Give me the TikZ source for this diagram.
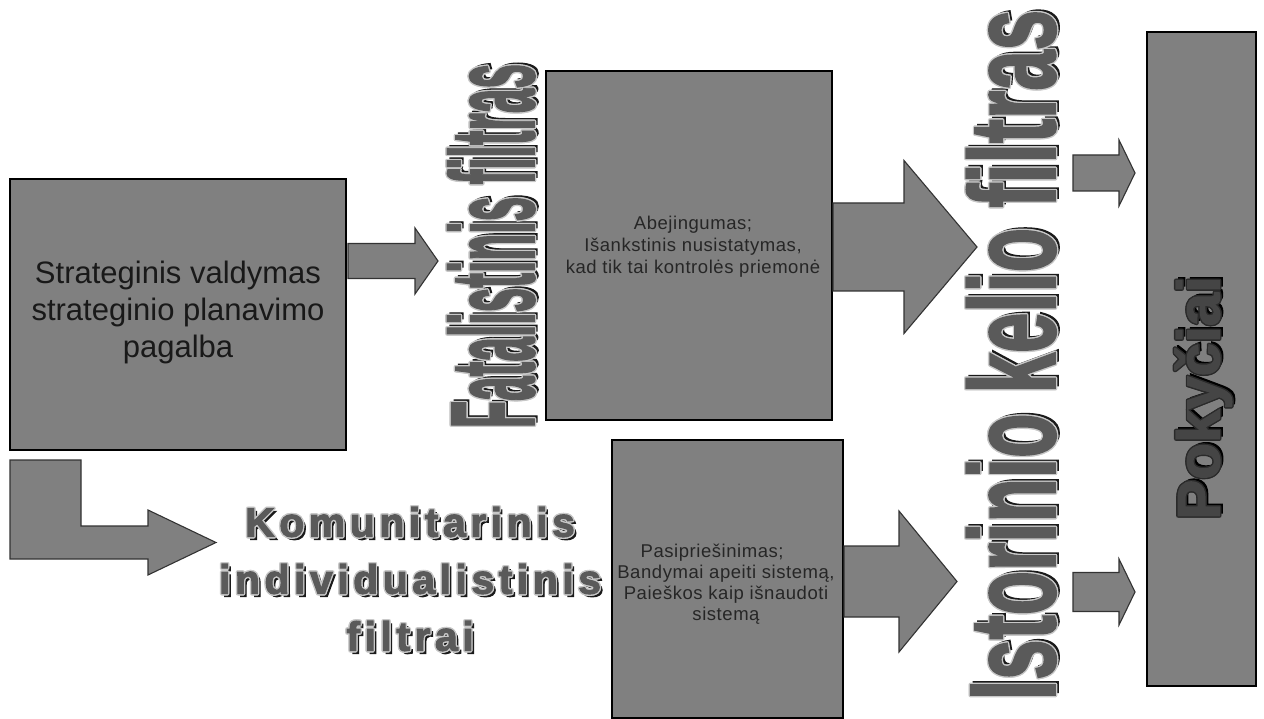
\documentclass[tikz,border=0pt]{standalone}
\usepackage{fontspec}
\usepackage{graphicx}
\setmainfont{Liberation Sans}
\newfontfamily\spacedfont{Liberation Sans}[LetterSpace=11,FakeBold=2.5]
\newfontfamily\heavyfont{Liberation Sans}[FakeBold=2]
\newfontfamily\smallfont{Liberation Sans}[LetterSpace=3]
\definecolor{boxgray}{HTML}{808080}
\definecolor{txtfill}{HTML}{5A5A5A}
\definecolor{txtout}{HTML}{C8C8C8}
\definecolor{txtshadow}{HTML}{1A1A1A}
\definecolor{pokfill}{HTML}{454545}
\definecolor{pokout}{HTML}{2A2A2A}
\definecolor{edgegray}{HTML}{333333}
\newcommand{\lay}[3]{\rlap{\kern#1\raisebox{#2}{#3}}}
\newcommand{\fancytxt}[4]{%
\lay{2.8pt}{-2.8pt}{\color{#1}#4}%
\lay{-1.4pt}{0pt}{\color{#2}#4}%
\lay{1.4pt}{0pt}{\color{#2}#4}%
\lay{0pt}{1.4pt}{\color{#2}#4}%
\lay{0pt}{-1.4pt}{\color{#2}#4}%
\lay{-1pt}{1pt}{\color{#2}#4}%
\lay{1pt}{1pt}{\color{#2}#4}%
\lay{-1pt}{-1pt}{\color{#2}#4}%
\lay{1pt}{-1pt}{\color{#2}#4}%
{\color{#3}#4}}
\newcommand{\blockarrow}[6]{%
\filldraw[arrowsty] (#1,#2-#5) -- (#3,#2-#5) -- (#3,#2-#6) -- (#4,#2) -- (#3,#2+#6) -- (#3,#2+#5) -- (#1,#2+#5) -- cycle;}
\tikzset{
  graybox/.style={draw=black, line width=1.3pt, fill=boxgray, inner sep=0pt},
  arrowsty/.style={draw=edgegray, line width=1.1pt, fill=boxgray, line join=miter},
  smalltxt/.style={align=center, font=\smallfont\fontsize{18.5}{22}\selectfont, text=black!85},
}
\begin{document}
\begin{tikzpicture}[x=1pt,y=-1pt]
\fill[white] (0,0) rectangle (1264,719);
\useasboundingbox (0,0) rectangle (1264,719);
% boxes
\node[graybox, minimum width=336pt, minimum height=271pt] (strat) at (178,314.5) {};
\node[graybox, minimum width=286pt, minimum height=349pt] (abej) at (689,245.5) {};
\node[graybox, minimum width=231pt, minimum height=278pt] (pasip) at (727.5,579) {};
\node[graybox, minimum width=109pt, minimum height=654pt] (pokbox) at (1201.5,359) {};
% arrows
\blockarrow{348}{261}{415}{438}{17.5}{33}
\blockarrow{833}{247}{904}{977}{44}{86.5}
\blockarrow{844}{581.5}{899}{957}{35.5}{70.5}
\blockarrow{1073}{173}{1119}{1135}{18}{33}
\blockarrow{1073}{592}{1119}{1135}{19.5}{33}
\filldraw[arrowsty] (10,460) -- (81,460) -- (81,526) -- (148,526) -- (148,510) -- (216,542.5) -- (148,575) -- (148,559) -- (10,559) -- cycle;
% texts
\node[align=center, font=\fontsize{31}{37}\selectfont, text=black!90] (strattxt) at (178,312) {Strateginis valdymas\\strateginio planavimo\\pagalba};
\node[smalltxt] (abejtxt) at (693,247) {Abejingumas;\\Išankstinis nusistatymas,\\kad tik tai kontrolės priemonė};
\node[smalltxt, font=\smallfont\fontsize{18.5}{21}\selectfont] (pasiptxt) at (726,584) {Pasipriešinimas;\hspace*{1.5em}\\Bandymai apeiti sistemą,\\Paieškos kaip išnaudoti\\sistemą};
\node[rotate=90, inner sep=0pt] (fatal) at (492,246) {\fancytxt{txtshadow}{txtout}{txtfill}{\resizebox{364pt}{86pt}{\heavyfont\bfseries Fatalistinis filtras}}};
\node[rotate=90, inner sep=0pt] (isto) at (1012,355) {\fancytxt{txtshadow}{txtout}{txtfill}{\resizebox{690pt}{88pt}{\heavyfont\bfseries Istorinio kelio filtras}}};
\node[inner sep=0pt] (komu) at (410,583) {\fancytxt{txtshadow}{txtout}{txtfill}{\spacedfont\bfseries\fontsize{41}{57}\selectfont\begin{tabular}{@{}c@{}}Komunitarinis\\individualistinis\\filtrai\end{tabular}}};
\node[rotate=90, inner sep=0pt] (pok) at (1204,398) {\fancytxt{black}{pokout}{pokfill}{\heavyfont\bfseries\fontsize{60}{70}\selectfont Pokyčiai}};
\end{tikzpicture}
\end{document}
